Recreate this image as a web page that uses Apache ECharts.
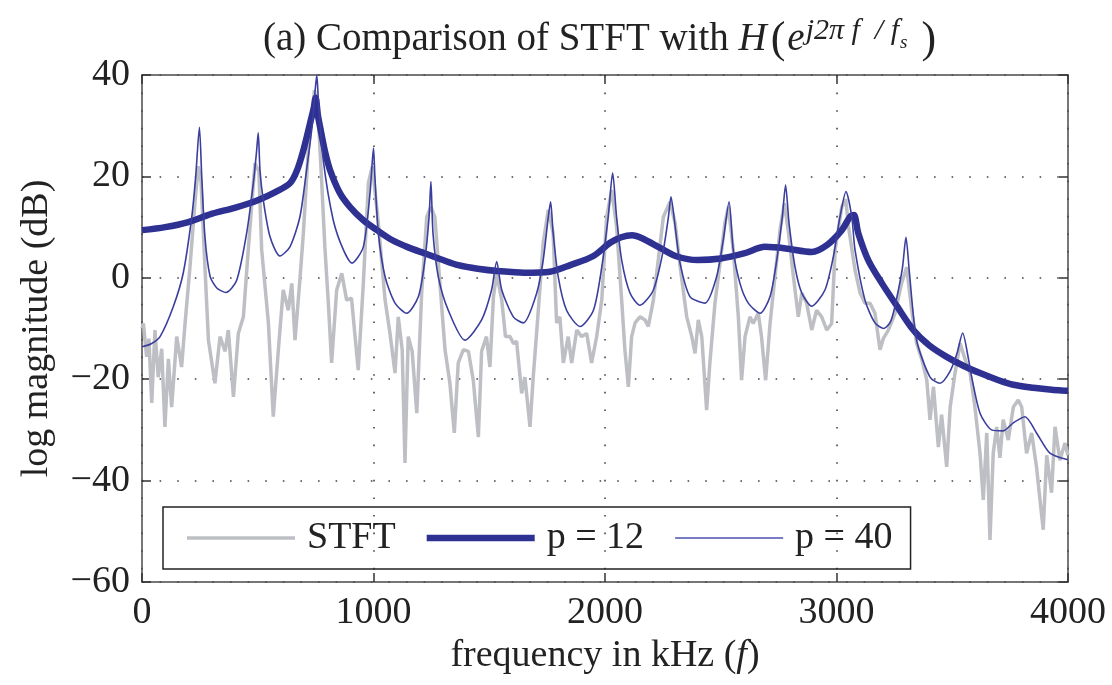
<!DOCTYPE html>
<html><head><meta charset="utf-8">
<script src="https://cdn.jsdelivr.net/npm/echarts@6/dist/echarts.min.js"></script>
<style>html,body{margin:0;padding:0;background:#fff}#c{width:1112px;height:685px}</style>
</head><body><div id="c"></div>
<script>
const xTicks = [0, 1000, 2000, 3000, 4000];
const yTicks = [-60, -40, -20, 0, 20, 40];
const seriesNames = ['STFT', 'p = 12', 'p = 40'];

const stftPoints = [
 [0,-10],[6,-9],[20,-15.6],[30,-12],[42,-24.7],[56,-10.3],[70,-19.6],[85,-14],[99,-29.4],[114,-16],[128,-25.5],
 [150,-11.6],[171,-17.6],[186,-9],[207,2],[229,15],[243,22],[255,19],[272,2],[287,-12.3],[315,-20.8],[337,-11.6],
 [359,-14.5],[373,-10.3],[395,-23.5],[416,-11],[438,-7.7],[459,5.5],[488,22.6],[505,21],[517,5.5],[546,-8.9],
 [567,-27.4],[589,-14.2],[610,-2.4],[632,-6.4],[647,-1.1],[661,-12.3],[683,0.2],[697,8.8],[718,25],[745,37],
 [760,33],[775,20],[790,6],[805,-5],[819,-16.8],[841,-2.4],[863,0.9],[884,-4.4],[905,-4],[934,-18.2],[956,-1.1],
 [978,18.7],[995,22],[1021,10.8],[1050,-4.4],[1071,-10.9],[1093,-18.8],[1107,-7.7],[1124,-14.2],[1136,-36.5],
 [1150,-11.6],[1167,-14.5],[1187,-26.7],[1208,-3],[1230,12],[1248,14],[1265,12],[1287,-1.1],[1309,-14.2],
 [1330,-20.8],[1349,-30.6],[1366,-16.8],[1388,-14.2],[1410,-14.5],[1431,-20.2],[1453,-31.4],[1467,-14.5],
 [1488,-11.6],[1503,-17.6],[1518,-3.8],[1532,0.9],[1554,-4.4],[1570,-11.6],[1590,-11.6],[1605,-13],[1618,-12.5],
 [1640,-22.8],[1654,-19.6],[1676,-29.4],[1690,-19.6],[1712,-6.4],[1733,6.9],[1755,13.4],[1776,8.8],[1791,-8.9],
 [1805,-7.7],[1820,-16.8],[1841,-11.6],[1856,-16.8],[1878,-10.3],[1899,-11.6],[1921,-11],[1942,-16.8],[1964,-11.6],
 [1986,-4.4],[2007,12],[2029,17.3],[2050,10.1],[2072,-4.4],[2086,-14.2],[2101,-21.5],[2115,-11.6],[2130,-8.9],
 [2151,-7.7],[2173,-8.3],[2187,-9.6],[2209,-4.4],[2230,3.5],[2252,12],[2281,15],[2303,10.8],[2325,2.1],[2353,-7.7],
 [2375,-11.6],[2389,-14.9],[2403,-8.3],[2418,-11.6],[2439,-26.1],[2453,-16.8],[2475,-5],[2497,2.9],[2518,10.8],
 [2533,14],[2554,5.5],[2576,-7.7],[2590,-20.2],[2605,-11.6],[2626,-7.7],[2640,-9],[2662,-7],[2676,-11.6],
 [2694,-20.2],[2713,-9],[2734,0.2],[2756,9.4],[2775,14.7],[2793,8.8],[2814,0.2],[2835,-7.7],[2850,-3],[2871,-5],
 [2893,-10.3],[2914,-6.4],[2936,-7.7],[2958,-10.3],[2979,-9],[2994,5.5],[3023,14],[3040,15.5],[3052,10],
 [3080,1.5],[3102,-3],[3123,-5],[3145,-5],[3166,-7],[3188,-14.2],[3202,-12],[3224,-10.3],[3253,-7],[3281,-1.1],
 [3303,2.1],[3325,-6.4],[3346,-12.9],[3368,-16],[3390,-20.2],[3404,-28],[3419,-21.5],[3440,-33.4],[3454,-27],
 [3476,-37.3],[3491,-25.5],[3512,-18.8],[3534,-12.9],[3555,-16],[3577,-18.8],[3598,-25.5],[3620,-34.6],
 [3634,-43.8],[3649,-30.6],[3663,-51.7],[3677,-34.6],[3692,-29.4],[3706,-35.5],[3720,-28],[3742,-32],
 [3764,-25.5],[3785,-24.1],[3800,-25.5],[3821,-34.6],[3843,-30.6],[3864,-37.3],[3879,-43.8],[3893,-49.7],
 [3908,-35],[3929,-42.4],[3944,-29.4],[3965,-36],[3987,-32.6],[4000,-35]
];

const p12Freq = [0,100,200,300,400,500,580,640,668,696,726,742,750,760,769,790,812,855,898,955,1015,1078,1150,1222,1300,1366,1450,1546,1650,1762,1850,1950,2022,2070,2117,2160,2238,2311,2400,2500,2600,2691,2780,2893,2960,3023,3058,3075,3094,3137,3195,3260,3332,3400,3476,3550,3620,3700,3764,3850,3930,4000];
const p12Db = [9.4,10,11,12.6,13.8,15.3,17,18.7,21,25,30.5,33.5,35.5,32,29.8,25,21.3,16.7,14,11.4,9.4,7.5,6,4.8,3.5,2.5,1.8,1.3,1,1.2,2.5,4.3,6.9,8,8.4,7.8,5.9,4.2,3.5,3.8,4.8,6.1,5.8,5.1,6.5,9.4,12,12.4,8.8,3.5,-1,-5.5,-10.3,-13.3,-15.6,-17.4,-18.8,-20.2,-21.1,-21.7,-22.1,-22.3];

const p40Freq = [0,40,78,135,178,215,232,248,258,272,294,323,363,409,452,481,495,502,510,524,553,596,639,682,711,735,748,755,762,783,826,870,907,956,985,1000,1006,1021,1050,1093,1143,1194,1222,1240,1248,1257,1280,1323,1395,1467,1510,1532,1554,1604,1647,1705,1733,1755,1765,1776,1798,1834,1892,1950,1986,2014,2033,2050,2072,2108,2151,2209,2252,2274,2285,2303,2324,2367,2432,2482,2511,2536,2554,2583,2619,2670,2713,2742,2766,2780,2795,2821,2850,2893,2950,2986,3015,3041,3066,3080,3123,3166,3205,3235,3260,3285,3300,3315,3346,3404,3447,3490,3520,3545,3570,3584,3620,3670,3720,3764,3814,3864,3922,4000];
const p40Db = [-13.6,-13,-11.6,-5.7,0.9,12,20,29.7,20,8,0.3,-2,-2.9,-0.5,8.8,18.7,25,28.6,21,15.3,8.1,4.3,6.1,12,21.3,30,37,40,35,23.2,11.4,5.5,2.9,6.1,16.7,25.6,20,8.8,0.2,-5,-7,-3.7,3.5,12,19,8.8,0.2,-6.4,-12.3,-8.3,-2.4,3.2,-2.4,-7.7,-8.9,-3,3.5,12,15,8.8,0.2,-6.4,-9.6,-6.4,2.1,12,20.7,12,3.5,-3,-5.4,-2.4,5.5,12,16,10.1,2.9,-3.7,-5,0.2,7.5,15,5.5,-1.1,-5,-7,-3.7,3.5,12,18.3,10.8,2.1,-3,-5.6,-2.4,4.1,12,17,12,5.5,-4.4,-8.9,-10,-8.5,-4,2,8,1,-12.3,-19.6,-20.8,-18.5,-15,-10.9,-16,-19.6,-26.7,-30,-30.2,-28.6,-27.4,-30.6,-34.6,-35.9];

const zip = (a, b) => a.map((v, i) => [v, b[i]]);
const FONT = 'Liberation Serif';
const TXT = '#222';
const FS = 38;
const C_GRAY = '#bdbfc4', C_BLUE = '#2e3192', C_THIN = '#3a3e9e';

const chart = echarts.init(document.getElementById('c'), null, {renderer: 'canvas'});

const axisLineStyle = {color: '#4a4a4a', width: 1.5};
const tickStyle = {show: true, inside: true, length: 9, lineStyle: {color: '#333', width: 1.5}};
const gridLine = {show: true, lineStyle: {color: '#444', width: 1.6, type: [1.6, 16]}};

const option = {
  animation: false,
  backgroundColor: '#fff',
  title: {
    text: '{n|(a) Comparison of STFT with }{i|H}{p|(}{i|e}{sup|j2π f  / f}{sub|s}{pr|)}',
    left: 258, top: 11,
    textStyle: {
      fontWeight: 'normal',
      rich: {
        n: {fontFamily: FONT, fontSize: 39, fontWeight: 'normal', color: TXT, lineHeight: 48},
        i: {fontFamily: FONT, fontSize: 39, fontWeight: 'normal', fontStyle: 'italic', color: TXT, lineHeight: 48},
        p: {fontFamily: FONT, fontSize: 44, fontWeight: 'normal', color: TXT, lineHeight: 48, padding: [0, 2, 0, 4]},
        pr: {fontFamily: FONT, fontSize: 44, fontWeight: 'normal', color: TXT, lineHeight: 48, padding: [0, 0, 0, 14]},
        sup: {fontFamily: FONT, fontSize: 30, fontWeight: 'normal', fontStyle: 'italic', color: TXT, verticalAlign: 'top', lineHeight: 30, padding: [0, 0, 0, 1]},
        sub: {fontFamily: FONT, fontSize: 19, fontWeight: 'normal', fontStyle: 'italic', color: TXT, verticalAlign: 'top', lineHeight: 19, padding: [17, 0, 0, 1]}
      }
    }
  },
  grid: {left: 142, right: 44, top: 75, bottom: 103, containLabel: false},
  legend: {
    data: [
      {name: seriesNames[0], icon: 'path://M0,0H100V3.2H0Z'},
      {name: seriesNames[1], icon: 'path://M0,0H100V6H0Z'},
      {name: seriesNames[2], icon: 'path://M0,0H100V1.5H0Z'}
    ],
    left: 163, top: 507,
    orient: 'horizontal',
    itemWidth: 108, itemHeight: 14, itemGap: 31,
    padding: [12, 18, 12, 24],
    borderColor: '#222', borderWidth: 1.5,
    textStyle: {fontFamily: FONT, fontSize: FS, color: TXT, padding: [0, 0, 0, 7]}
  },
  xAxis: [{
    type: 'value', min: xTicks[0], max: xTicks[xTicks.length - 1], interval: xTicks[1] - xTicks[0],
    position: 'bottom',
    axisLine: {show: true, onZero: false, lineStyle: axisLineStyle},
    axisTick: tickStyle,
    axisLabel: {fontFamily: FONT, fontSize: FS, color: TXT, margin: 12, formatter: v => String(v)},
    splitLine: gridLine,
    name: '{n|frequency in kHz (}{i|f}{n|)}',
    nameLocation: 'middle', nameGap: 50,
    nameTextStyle: {rich: {
      n: {fontFamily: FONT, fontSize: FS, color: TXT},
      i: {fontFamily: FONT, fontSize: FS, fontStyle: 'italic', color: TXT}
    }}
  }, {
    type: 'value', min: xTicks[0], max: xTicks[xTicks.length - 1], interval: xTicks[1] - xTicks[0],
    position: 'top',
    axisLine: {show: true, onZero: false, lineStyle: axisLineStyle},
    axisTick: tickStyle,
    axisLabel: {show: false},
    splitLine: {show: false}
  }],
  yAxis: [{
    type: 'value', min: yTicks[0], max: yTicks[yTicks.length - 1], interval: yTicks[1] - yTicks[0],
    position: 'left',
    axisLine: {show: true, onZero: false, lineStyle: axisLineStyle},
    axisTick: tickStyle,
    axisLabel: {fontFamily: FONT, fontSize: FS, color: TXT, margin: 12,
      formatter: v => String(v).replace('-', '\u2212')},
    splitLine: gridLine,
    name: 'log magnitude (dB)',
    nameLocation: 'middle', nameGap: 86,
    nameTextStyle: {fontFamily: FONT, fontSize: FS, color: TXT}
  }, {
    type: 'value', min: yTicks[0], max: yTicks[yTicks.length - 1], interval: yTicks[1] - yTicks[0],
    position: 'right',
    axisLine: {show: true, onZero: false, lineStyle: axisLineStyle},
    axisTick: tickStyle,
    axisLabel: {show: false},
    splitLine: {show: false}
  }],
  series: [{
    name: seriesNames[0], type: 'line', data: stftPoints,
    showSymbol: false, symbol: 'none', smooth: false,
    lineStyle: {color: C_GRAY, width: 3.5},
    itemStyle: {color: C_GRAY},
    z: 2
  }, {
    name: seriesNames[1], type: 'line', data: zip(p12Freq, p12Db),
    showSymbol: false, symbol: 'none', smooth: 0.3,
    lineStyle: {color: C_BLUE, width: 6.5},
    itemStyle: {color: C_BLUE},
    z: 3
  }, {
    name: seriesNames[2], type: 'line', data: zip(p40Freq, p40Db),
    showSymbol: false, symbol: 'none', smooth: 0.25,
    lineStyle: {color: C_THIN, width: 1.6},
    itemStyle: {color: '#4b50b2'},
    z: 4
  }]
};
chart.setOption(option);
</script>
</body></html>
